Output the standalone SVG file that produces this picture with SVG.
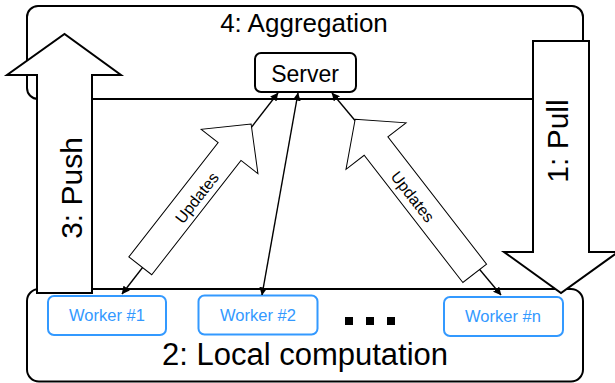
<svg xmlns="http://www.w3.org/2000/svg" width="615" height="383" viewBox="0 0 615 383">
  <defs>
    <marker id="tip" viewBox="0 0 10 10" refX="9.5" refY="5" markerWidth="8" markerHeight="8" markerUnits="userSpaceOnUse" orient="auto-start-reverse">
      <path d="M0,0 L10,5 L0,10 z" fill="#000"/>
    </marker>
    <style>
      .frame { fill: #fff; stroke: #000; stroke-width: 2; }
      .server { fill: #fff; stroke: #000; stroke-width: 2; }
      .worker { fill: #fff; stroke: #3399ff; stroke-width: 2; }
      .wtext { font-family: "Liberation Sans", Arial, sans-serif; font-size: 16.5px; fill: #3399ff; text-anchor: middle; }
      .label { font-family: "Liberation Sans", Arial, sans-serif; fill: #000; text-anchor: middle; }
      .big { fill: #fff; stroke: #000; stroke-width: 2; stroke-linejoin: miter; }
      .block { fill: #fff; stroke: #000; stroke-width: 1; }
      .link { stroke: #000; stroke-width: 1.4; fill: none; marker-start: url(#tip); marker-end: url(#tip); }
    </style>
  </defs>

  <rect width="615" height="383" fill="#fff"/>

  <!-- stage 4: aggregation area -->
  <g id="aggregation">
    <rect class="frame" x="27" y="6" width="556" height="93" rx="11"/>
    <text class="label" x="304" y="32" font-size="26">4: Aggregation</text>
  </g>

  <!-- stage 2: local computation area -->
  <g id="local-computation">
    <rect class="frame" x="27" y="289" width="556" height="92.5" rx="12"/>
    <text class="label" x="305" y="365" font-size="31">2: Local computation</text>
  </g>

  <g id="server">
    <rect class="server" x="255" y="53" width="101" height="39" rx="6"/>
    <text class="label" x="305" y="82" font-size="23">Server</text>
  </g>

  <g id="worker-1">
    <rect class="worker" x="48" y="296" width="118" height="39" rx="6"/>
    <text class="wtext" x="107" y="321">Worker #1</text>
  </g>

  <g id="worker-2">
    <rect class="worker" x="198.5" y="295.5" width="119" height="39" rx="6"/>
    <text class="wtext" x="258" y="321">Worker #2</text>
  </g>

  <g id="ellipsis">
    <rect x="345" y="317" width="8" height="8" fill="#000"/>
    <rect x="366" y="317" width="8" height="8" fill="#000"/>
    <rect x="387" y="317" width="8" height="8" fill="#000"/>
  </g>

  <g id="worker-n">
    <rect class="worker" x="444" y="297" width="119" height="39" rx="6"/>
    <text class="wtext" x="503" y="322">Worker #n</text>
  </g>

  <!-- worker/server links -->
  <g id="connectors">
    <line class="link" x1="122" y1="294" x2="278" y2="93"/>
    <line class="link" x1="262" y1="295" x2="298" y2="93"/>
    <line class="link" x1="501" y1="295" x2="332" y2="93"/>
  </g>

  <!-- "Updates" block arrows along the links -->
  <g id="updates-left">
    <polygon class="block" transform="translate(140.3,265.8) rotate(-52)" points="0,-14.5 145,-14.5 145,-36 180,0 145,36 145,14.5 0,14.5"/>
    <text class="label" transform="translate(196.5,197.5) rotate(-52)" x="0" y="6" font-size="16">Updates</text>
  </g>

  <g id="updates-right">
    <polygon class="block" transform="translate(474.7,273.3) rotate(-127.8)" points="0,-15 161,-15 161,-38 195,0 161,38 161,15 0,15"/>
    <text class="label" transform="translate(413,196.5) rotate(52)" x="0" y="6" font-size="16">Updates</text>
  </g>

  <!-- stage 3: push arrow -->
  <g id="push">
    <polygon class="big" points="37,293 37,75 7,75 64.5,34 121,75 92,75 92,293"/>
    <text class="label" transform="translate(82,188) rotate(-90)" x="0" y="0" font-size="30">3: Push</text>
  </g>

  <!-- stage 1: pull arrow -->
  <g id="pull">
    <polygon class="big" points="533,41 589,41 589,252 618,252 561,293 504,252 533,252"/>
    <text class="label" transform="translate(568,141) rotate(-90)" x="0" y="0" font-size="30">1: Pull</text>
  </g>
</svg>
